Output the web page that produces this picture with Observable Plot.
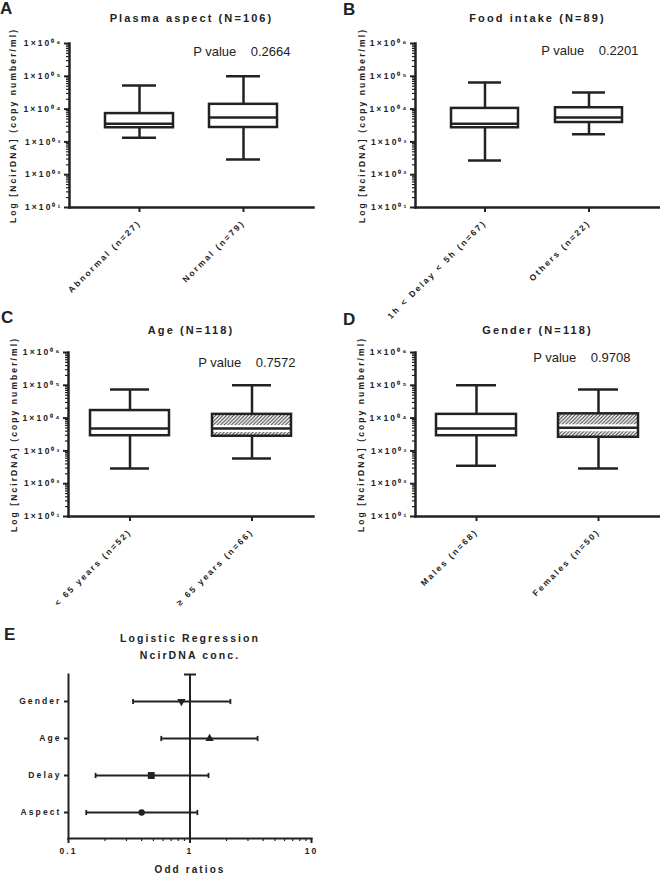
<!DOCTYPE html>
<html>
<head>
<meta charset="utf-8">
<script src="https://cdn.jsdelivr.net/npm/d3@7"></script>
<script src="https://cdn.jsdelivr.net/npm/@observablehq/plot@0.6"></script>
<style>
  body { margin: 0; background: white; }
  .fig { position: relative; width: 660px; height: 876px; font-family: "Liberation Sans", Arial, sans-serif; color: #222; }
  .fig .pane { position: absolute; }
  .fig svg { overflow: visible !important; background: transparent !important; }
  .fig svg text { font-weight: bold; letter-spacing: 2.1px; }
  .fig svg text.pval { font-weight: normal !important; letter-spacing: 0 !important; }
  .lett { position: absolute; font-size: 17px; line-height: 17px; font-weight: bold; color: #222; }
</style>
</head>
<body>
<svg width="0" height="0" style="position:absolute">
  <defs>
    <pattern id="hatch" patternUnits="userSpaceOnUse" width="3.6" height="3.6">
      <rect width="3.6" height="3.6" fill="white"/>
      <path d="M-1,1 l2,-2 M0,3.6 l3.6,-3.6 M2.6,4.6 l2,-2" stroke="#333" stroke-width="1"/>
    </pattern>
  </defs>
</svg>
<div class="fig" id="fig">
  <div class="pane" id="pA" style="left:0;top:0"></div>
  <div class="pane" id="pB" style="left:330px;top:0"></div>
  <div class="pane" id="pC" style="left:0;top:300px"></div>
  <div class="pane" id="pD" style="left:330px;top:300px"></div>
  <div class="pane" id="pE" style="left:0;top:610px"></div>
  <div class="lett" style="left:0;top:0">A</div>
  <div class="lett" style="left:343px;top:1px">B</div>
  <div class="lett" style="left:1px;top:309px">C</div>
  <div class="lett" style="left:343px;top:311px">D</div>
  <div class="lett" style="left:4px;top:626px">E</div>
</div>
<script>
// ---------- Data ----------
// Panel A: plasma aspect
const aspectCats = ["Abnormal (n=27)", "Normal (n=79)"];
const aspectMin = [1350, 290];
const aspectQ1 = [2700, 2750];
const aspectMed = [3600, 5500];
const aspectQ3 = [7300, 14000];
const aspectMax = [52000, 100000];

// Panel B: food intake
const foodCats = ["1h < Delay < 5h (n=67)", "Others (n=22)"];
const foodMin = [270, 1700];
const foodQ1 = [2700, 3900];
const foodMed = [3600, 5500];
const foodQ3 = [10500, 11000];
const foodMax = [65000, 32000];

// Panel C: age
const ageCats = ["< 65 years (n=52)", "\u2265 65 years (n=66)"];
const ageMin = [290, 590];
const ageQ1 = [2900, 2800];
const ageMed = [4800, 4800];
const ageQ3 = [17000, 13000];
const ageMax = [74000, 100000];

// Panel D: gender
const genderCats = ["Males (n=68)", "Females (n=50)"];
const genderMin = [350, 290];
const genderQ1 = [2900, 2600];
const genderMed = [4800, 5100];
const genderQ3 = [13000, 13500];
const genderMax = [100000, 74000];

const titles = ["Plasma aspect (N=106)", "Food intake (N=89)", "Age (N=118)", "Gender (N=118)"];
const pValues = ["0.2664", "0.2201", "0.7572", "0.9708"];
const yTicks = [1e1, 1e2, 1e3, 1e4, 1e5, 1e6];
const yLabel = "Log [NcirDNA] (copy number/ml)";

// Panel E: logistic regression odds ratios
const orFactors = ["Gender", "Age", "Delay", "Aspect"];
const orValues = [0.85, 1.45, 0.48, 0.40];
const orLow = [0.34, 0.58, 0.167, 0.14];
const orHigh = [2.15, 3.6, 1.42, 1.15];
const orTicks = [0.1, 1, 10];
const eTitle = "Logistic Regression\nNcirDNA conc.";
const eXLabel = "Odd ratios";

// ---------- Helpers ----------
const INK = "#222";
const FONT = '"Liberation Sans", Arial, sans-serif';
const SUP = {"0":"\u2070","1":"\u00b9","2":"\u00b2","3":"\u00b3","4":"\u2074","5":"\u2075","6":"\u2076","7":"\u2077","8":"\u2078","9":"\u2079"};
const sci = v => "1\u00d710" + String(Math.round(Math.log10(v))).padStart(2, "0").split("").map(c => SUP[c]).join("");
const minorTicks = yTicks.slice(0, -1).flatMap(t => d3.range(2, 10).map(m => m * t));

function boxPanel(cfg) {
  const rows = cfg.cats.map((c, i) => ({
    cat: c, min: cfg.min[i], q1: cfg.q1[i], med: cfg.med[i], q3: cfg.q3[i], max: cfg.max[i],
    hatched: cfg.hatch && i === 1
  }));
  const sw = 2.5;
  const svg = Plot.plot({
    width: 330, height: cfg.height,
    marginLeft: cfg.ml, marginRight: cfg.mr, marginTop: cfg.mt, marginBottom: cfg.mb,
    style: {fontFamily: FONT, fontSize: "8.5px", color: INK, background: "transparent", overflow: "visible"},
    x: {domain: cfg.cats, paddingInner: cfg.pi, paddingOuter: cfg.po},
    y: {type: "log", domain: [yTicks[0], yTicks[yTicks.length - 1]]},
    marks: [
      Plot.axisY({ticks: minorTicks, tickSize: 3, tickFormat: () => "", strokeWidth: 1.2, label: null}),
      Plot.axisY({ticks: yTicks, tickSize: 5, tickPadding: 2, tickFormat: sci, strokeWidth: 2, label: null, fontSize: 8.5}),
      Plot.axisX({tickSize: 5, tickPadding: 9, tickRotate: -45, strokeWidth: 2, label: null, fontSize: 8.5}),
      Plot.frame({anchor: "left", stroke: INK, strokeWidth: 2.5}),
      Plot.frame({anchor: "bottom", stroke: INK, strokeWidth: 2.5}),
      Plot.ruleX(rows, {x: "cat", y1: "q3", y2: "max", stroke: INK, strokeWidth: sw}),
      Plot.ruleX(rows, {x: "cat", y1: "min", y2: "q1", stroke: INK, strokeWidth: sw}),
      Plot.tickY(rows, {x: "cat", y: "max", insetLeft: cfg.cap, insetRight: cfg.cap, stroke: INK, strokeWidth: sw}),
      Plot.tickY(rows, {x: "cat", y: "min", insetLeft: cfg.cap, insetRight: cfg.cap, stroke: INK, strokeWidth: sw}),
      Plot.barY(rows, {filter: d => !d.hatched, x: "cat", y1: "q1", y2: "q3", fill: "white"}),
      Plot.barY(rows, {filter: d => d.hatched, x: "cat", y1: "q1", y2: "q3", fill: "url(#hatch)"}),
      Plot.tickY(rows, {filter: d => d.hatched, x: "cat", y: "med", stroke: "white", strokeWidth: 7}),
      Plot.tickY(rows, {x: "cat", y: "med", stroke: INK, strokeWidth: sw}),
      Plot.barY(rows, {x: "cat", y1: "q1", y2: "q3", fill: "none", stroke: INK, strokeWidth: sw}),
      Plot.text([cfg.title], {frameAnchor: "top", dy: cfg.titleDy, fontSize: 11, lineAnchor: "middle"}),
      Plot.text([`P value\u00a0\u00a0\u00a0\u00a0${cfg.p}`], {frameAnchor: "top-right", textAnchor: "end", lineAnchor: "middle", dx: cfg.pDx, dy: cfg.pDy, fontSize: 13}),
      Plot.text([yLabel], {frameAnchor: "left", rotate: -90, textAnchor: "middle", lineAnchor: "middle", dx: cfg.ylabX - cfg.ml, fontSize: 8.5})
    ]
  });
  d3.select(svg).selectAll("text").filter(function() { return this.textContent.startsWith("P value"); })
    .classed("pval", true).style("font-weight", "normal").style("letter-spacing", "0px");
  return svg;
}

const panels = [
  {el: "pA", cats: aspectCats, min: aspectMin, q1: aspectQ1, med: aspectMed, q3: aspectQ3, max: aspectMax,
   title: titles[0], p: pValues[0], height: 300, ml: 69, mr: 17, mt: 43, mb: 93, pi: 0.346, po: 0.346, cap: 17,
   ylabX: 12.5, titleDy: -25, pDx: -23, pDy: 8.5, hatch: false},
  {el: "pB", cats: foodCats, min: foodMin, q1: foodQ1, med: foodMed, q3: foodQ3, max: foodMax,
   title: titles[1], p: pValues[1], height: 300, ml: 85, mr: 1, mt: 43, mb: 93, pi: 0.355, po: 0.35, cap: 17,
   ylabX: 31.5, titleDy: -25, pDx: -21, pDy: 7.8, hatch: false},
  {el: "pC", cats: ageCats, min: ageMin, q1: ageQ1, med: ageMed, q3: ageQ3, max: ageMax,
   title: titles[2], p: pValues[2], height: 310, ml: 68, mr: 17, mt: 52, mb: 94, pi: 0.352, po: 0.176, cap: 20,
   ylabX: 13.5, titleDy: -22.5, pDx: -18, pDy: 10.8, hatch: true},
  {el: "pD", cats: genderCats, min: genderMin, q1: genderQ1, med: genderMed, q3: genderQ3, max: genderMax,
   title: titles[3], p: pValues[3], height: 310, ml: 85, mr: 1, mt: 52, mb: 94, pi: 0.344, po: 0.172, cap: 20,
   ylabX: 31, titleDy: -22.5, pDx: -29, pDy: 5, hatch: true}
];
panels.forEach(cfg => document.getElementById(cfg.el).append(boxPanel(cfg)));

// ---------- Panel E: forest plot ----------
const forest = orFactors.map((f, i) => ({name: f, or: orValues[i], lo: orLow[i], hi: orHigh[i]}));
const hbar = {draw(ctx, size) { const r = Math.sqrt(size / Math.PI); ctx.moveTo(-r, 0); ctx.lineTo(r, 0); }};
const vbar = {draw(ctx, size) { const r = Math.sqrt(size / Math.PI); ctx.moveTo(0, -r); ctx.lineTo(0, r); }};
const markerSymbol = ["triangle", "triangle", "square", "circle"];
const markerRotate = [180, 0, 0, 0];
const markerR = [3.1, 3.1, 3.9, 3.2];
const minorOR = orTicks.slice(0, -1).flatMap(t => d3.range(2, 10).map(m => m * t));

const plotE = Plot.plot({
  width: 330, height: 266,
  marginLeft: 68, marginRight: 19, marginTop: 64, marginBottom: 38,
  style: {fontFamily: FONT, fontSize: "8.5px", color: INK, background: "transparent", overflow: "visible"},
  x: {type: "log", domain: [orTicks[0], orTicks[orTicks.length - 1]]},
  y: {type: "point", domain: orFactors, padding: 0.658},
  marks: [
    Plot.axisY({tickSize: 4, tickPadding: 3, strokeWidth: 2, label: null, fontSize: 8.5}),
    Plot.axisX({ticks: minorOR, tickSize: 3, tickFormat: () => "", strokeWidth: 1.2, label: null}),
    Plot.axisX({ticks: orTicks, tickSize: 5, tickPadding: 4, tickFormat: d => String(d), strokeWidth: 2, label: null, fontSize: 8.5}),
    Plot.frame({anchor: "left", stroke: INK, strokeWidth: 2}),
    Plot.frame({anchor: "bottom", stroke: INK, strokeWidth: 2}),
    Plot.ruleX([1], {stroke: INK, strokeWidth: 2}),
    Plot.dot([1], {x: d => d, frameAnchor: "top", symbol: hbar, r: 6, fill: "none", stroke: INK, strokeWidth: 2}),
    Plot.ruleY(forest, {y: "name", x1: "lo", x2: "hi", stroke: INK, strokeWidth: 2}),
    Plot.dot(forest, {x: "lo", y: "name", symbol: vbar, r: 2.6, fill: "none", stroke: INK, strokeWidth: 1.8}),
    Plot.dot(forest, {x: "hi", y: "name", symbol: vbar, r: 2.6, fill: "none", stroke: INK, strokeWidth: 1.8}),
    ...orFactors.map((f, i) => Plot.dot(forest, {
      filter: d => d.name === f, x: "or", y: "name",
      symbol: markerSymbol[i], rotate: markerRotate[i], r: markerR[i], fill: INK, stroke: "none"
    })),
    Plot.text([eTitle], {frameAnchor: "top", lineAnchor: "top", dy: -44, lineHeight: 1.6, fontSize: 10.5}),
    Plot.text([eXLabel], {frameAnchor: "bottom", lineAnchor: "middle", dy: 31, fontSize: 10})
  ]
});
document.getElementById("pE").append(plotE);
</script>
</body>
</html>
